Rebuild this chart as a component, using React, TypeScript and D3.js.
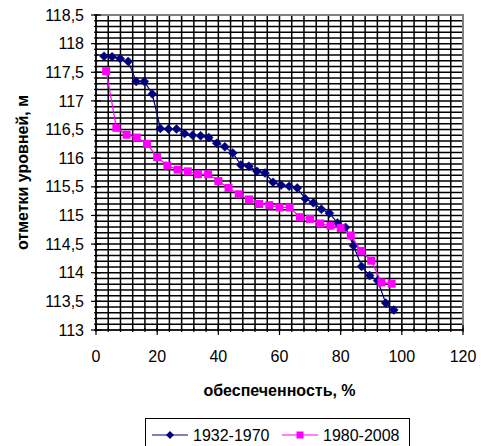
import React from 'react';
import * as d3 from 'd3';

const series1Name = '1932-1970';
const series2Name = '1980-2008';

// обеспеченность, % (empirical exceedance probability of each ranked level)
const prob1932 = [2.63, 5.26, 7.89, 10.53, 13.16, 15.79, 18.42, 21.05, 23.68, 26.32, 28.95, 31.58, 34.21, 36.84, 39.47, 42.11, 44.74, 47.37, 50.0, 52.63, 55.26, 57.89, 60.53, 63.16, 65.79, 68.42, 71.05, 73.68, 76.32, 78.95, 81.58, 84.21, 86.84, 89.47, 92.11, 94.74, 97.37];
const levels1932 = [117.78, 117.77, 117.74, 117.69, 117.34, 117.34, 117.12, 116.52, 116.51, 116.51, 116.43, 116.4, 116.39, 116.36, 116.26, 116.2, 116.09, 115.88, 115.86, 115.77, 115.74, 115.58, 115.53, 115.51, 115.48, 115.29, 115.22, 115.11, 115.04, 114.87, 114.79, 114.47, 114.11, 113.95, 113.86, 113.47, 113.35];

const prob1980 = [3.33, 6.67, 10.0, 13.33, 16.67, 20.0, 23.33, 26.67, 30.0, 33.33, 36.67, 40.0, 43.33, 46.67, 50.0, 53.33, 56.67, 60.0, 63.33, 66.67, 70.0, 73.33, 76.67, 80.0, 83.33, 86.67, 90.0, 93.33, 96.67];
const levels1980 = [117.52, 116.53, 116.41, 116.36, 116.25, 116.02, 115.87, 115.8, 115.77, 115.72, 115.72, 115.6, 115.48, 115.37, 115.28, 115.2, 115.18, 115.14, 115.14, 114.97, 114.94, 114.86, 114.82, 114.78, 114.65, 114.38, 114.21, 113.83, 113.81];

const xTicks = [0, 20, 40, 60, 80, 100, 120];
const yTicks = [113, 113.5, 114, 114.5, 115, 115.5, 116, 116.5, 117, 117.5, 118, 118.5];
const xMinorStep = 4;
const yMinorStep = 0.1;

const xTitle = 'обеспеченность, %';
const yTitle = 'отметки уровней, м';

const W = 481;
const H = 446;
const left = 96;
const right = 463;
const top = 15;
const bottom = 330;

const FONT = '"Liberation Sans", Arial, sans-serif';

export default function App() {
  const x = d3.scaleLinear().domain([0, 120]).range([left, right]);
  const y = d3.scaleLinear().domain([113, 118.5]).range([bottom, top]);

  const xMinor = d3.range(0, 120 + 1e-9, xMinorStep);
  const yMinor = d3.range(0, Math.round((118.5 - 113) / yMinorStep) + 1).map((i) => 113 + i * yMinorStep);

  const fmt = (v: number) => String(v).replace('.', ',');

  const line = d3
    .line<[number, number]>()
    .x((d) => x(d[0]))
    .y((d) => y(d[1]));

  const s1: [number, number][] = prob1932.map((p, i) => [p, levels1932[i]]);
  const s2: [number, number][] = prob1980.map((p, i) => [p, levels1980[i]]);

  const blue = '#000080';
  const pink = '#FF00FF';

  const diamond = (cx: number, cy: number, r: number) =>
    `M${cx},${cy - r}L${cx + r},${cy}L${cx},${cy + r}L${cx - r},${cy}Z`;

  return (
    <svg
      width={W}
      height={H}
      style={{ position: 'absolute', left: 0, top: 0, background: '#fff' }}
      fontFamily={FONT}
    >
      <rect x={0} y={0} width={W} height={H} fill="#fff" />
      {/* grid */}
      <g stroke="#000" strokeWidth={1.5}>
        {yMinor.map((v, i) => (
          <line key={'gy' + i} x1={left} x2={right} y1={y(v)} y2={y(v)} />
        ))}
        {xMinor.map((v, i) => (
          <line key={'gx' + i} x1={x(v)} x2={x(v)} y1={top} y2={bottom} />
        ))}
      </g>
      {/* plot border top/right */}
      <path d={`M${left},${top}H${right}V${bottom}`} fill="none" stroke="#808080" strokeWidth={2} />
      {/* axes */}
      <g stroke="#000" strokeWidth={1.2}>
        <line x1={left} x2={left} y1={top} y2={bottom} />
        <line x1={left} x2={right} y1={bottom} y2={bottom} />
        {yMinor.map((v, i) => (
          <line key={'ty' + i} x1={left - 2} x2={left + 2} y1={y(v)} y2={y(v)} />
        ))}
        {yTicks.map((v, i) => (
          <line key={'tY' + i} x1={left - 5} x2={left + 5} y1={y(v)} y2={y(v)} />
        ))}
        {xMinor.map((v, i) => (
          <line key={'tx' + i} x1={x(v)} x2={x(v)} y1={bottom - 2} y2={bottom + 2} />
        ))}
        {xTicks.map((v, i) => (
          <line key={'tX' + i} x1={x(v)} x2={x(v)} y1={bottom - 5} y2={bottom + 5} />
        ))}
      </g>
      {/* tick labels */}
      <g fontSize={16} fill="#000">
        {yTicks.map((v, i) => (
          <text key={'ly' + i} x={left - 12} y={y(v)} dy="0.35em" textAnchor="end">
            {fmt(v)}
          </text>
        ))}
        {xTicks.map((v, i) => (
          <text key={'lx' + i} x={x(v)} y={bottom + 32} textAnchor="middle">
            {fmt(v)}
          </text>
        ))}
      </g>
      {/* titles */}
      <text x={(left + right) / 2} y={396} textAnchor="middle" fontSize={16} fontWeight="bold">
        {xTitle}
      </text>
      <text
        transform={`translate(28,${(top + bottom) / 2}) rotate(-90)`}
        textAnchor="middle"
        fontSize={16}
        fontWeight="bold"
      >
        {yTitle}
      </text>
      {/* series */}
      <path d={line(s1) || ''} fill="none" stroke={blue} strokeWidth={1.2} />
      {s1.map((d, i) => (
        <path key={'m1' + i} d={diamond(x(d[0]), y(d[1]), 4.5)} fill={blue} stroke={blue} strokeWidth={0.5} />
      ))}
      <path d={line(s2) || ''} fill="none" stroke={pink} strokeWidth={1.2} />
      {s2.map((d, i) => (
        <rect key={'m2' + i} x={x(d[0]) - 4} y={y(d[1]) - 4} width={8} height={8} fill={pink} />
      ))}
      {/* legend */}
      <rect x={145.5} y={418.5} width={264} height={40} fill="#fff" stroke="#000" strokeWidth={1} />
      <line x1={152} x2={188} y1={435} y2={435} stroke={blue} strokeWidth={1.2} />
      <path d={diamond(170, 435, 4)} fill={blue} />
      <text x={193} y={435} dy="0.35em" fontSize={16}>
        {series1Name}
      </text>
      <line x1={282} x2={318} y1={435} y2={435} stroke={pink} strokeWidth={1.2} />
      <rect x={296.5} y={431.5} width={7} height={7} fill={pink} />
      <text x={323} y={435} dy="0.35em" fontSize={16}>
        {series2Name}
      </text>
    </svg>
  );
}
